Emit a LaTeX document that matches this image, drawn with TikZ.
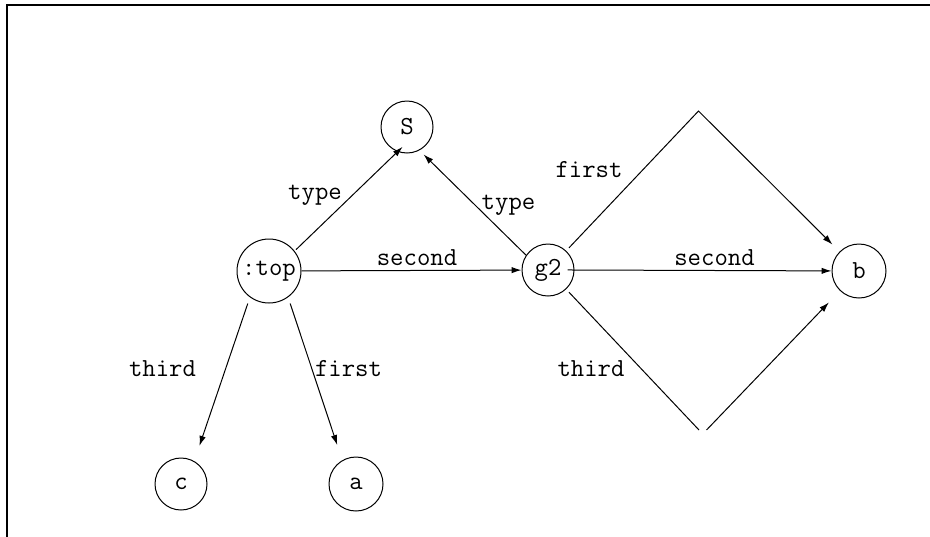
\documentclass[tikz,border=0pt]{standalone}
\usetikzlibrary{arrows.meta}
\begin{document}
\begin{tikzpicture}[x=0.5pt,y=-0.5pt,
  every node/.style={font=\fontsize{13}{15}\selectfont\ttfamily},
  circ/.style={draw,circle,line width=0.5pt,inner sep=0.5pt,minimum size=26pt},
  lbl/.style={anchor=base,inner sep=0pt},
  arr/.style={line width=0.5pt,-{Latex[length=5pt,width=3.2pt]}}]
\useasboundingbox (0,0) rectangle (930,536);
\draw[line width=1pt] (7,540) -- (7,5) -- (934,5);
% nodes
\node[circ] (S) at (407,127) {S};
\node[circ,minimum size=32pt] (top) at (269,271) {:top};
\node[circ] (g2) at (548,270) {g2};
\node[circ,minimum size=27pt] (b) at (859,271) {b};
\node[circ] (c) at (181,484) {c};
\node[circ,minimum size=27pt] (a) at (356,484) {a};
% helper coordinates
\coordinate (fapex) at (698.5,111);
\coordinate (tL) at (699,430);
\coordinate (tR) at (706.5,430);
% edges
\draw[arr,shorten <=1pt,shorten >=-3.5pt] (top.38) -- (S.249);
\draw[arr,shorten >=2.9pt] (g2.146) -- (S.298);
\draw[arr] (top) -- (g2);
\draw[arr,shorten <=-3.5pt] (g2.east) -- (b);
\draw[arr,shorten <=2pt,shorten >=5pt] (g2) -- (fapex) -- (b);
\draw[line width=0.5pt,shorten <=2pt] (g2) -- (tL);
\draw[arr,shorten >=8pt] (tR) -- (b);
\draw[arr,shorten <=3.3pt,shorten >=8pt] (top.234) -- (c.60);
\draw[arr,shorten <=3.3pt,shorten >=8pt] (top.306) -- (a.120);
% labels
\node[lbl] (l1) at (315,199) {type};
\node[lbl] (l2) at (508.5,209.5) {type};
\node[lbl] (l3) at (417,265.5) {second};
\node[lbl] (l4) at (589,177) {first};
\node[lbl] (l5) at (714.5,265.5) {second};
\node[lbl] (l6) at (591,376) {third};
\node[lbl] (l7) at (162.5,376.5) {third};
\node[lbl] (l8) at (348.5,376.5) {first};
\end{tikzpicture}
\end{document}
